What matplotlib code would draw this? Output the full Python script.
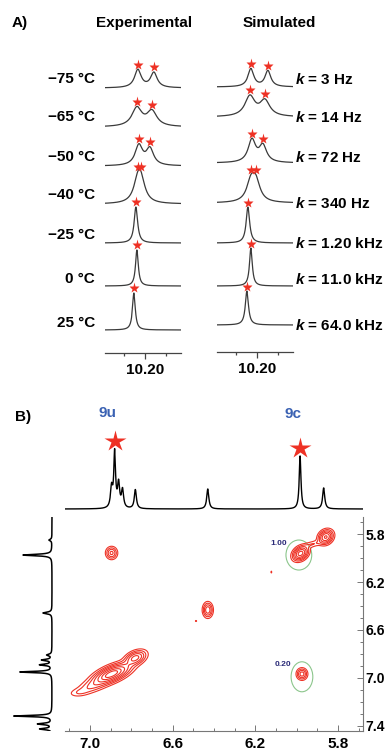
import numpy as np
import matplotlib
matplotlib.use('Agg')
import matplotlib.pyplot as plt
from matplotlib.patches import Ellipse

plt.rcParams['font.family'] = ['Liberation Sans', 'DejaVu Sans']
plt.rcParams['font.weight'] = 'bold'
plt.rcParams['mathtext.fontset'] = 'custom'
plt.rcParams['mathtext.it'] = 'Liberation Sans:italic:bold'
plt.rcParams['mathtext.rm'] = 'Liberation Sans:bold'

# ---------------- data: panel A (variable temperature) ----------------
temps = ['\u221275 \u00b0C', '\u221265 \u00b0C', '\u221250 \u00b0C', '\u221240 \u00b0C',
         '\u221225 \u00b0C', '0 \u00b0C', '25 \u00b0C']
rates = ['3 Hz', '14 Hz', '72 Hz', '340 Hz', '1.20 kHz', '11.0 kHz', '64.0 kHz']

# each row: list of (centre ppm, height, half width ppm)
exp_peaks = [
    [(10.2167, 18.0, 0.0095), (10.1786, 15.0, 0.0095)],
    [(10.2190, 18.5, 0.0143), (10.1833, 15.0, 0.0143)],
    [(10.2143, 20.0, 0.0107), (10.1881, 16.5, 0.0107)],
    [(10.2167, 19.0, 0.0119), (10.2095, 19.0, 0.0119)],
    [(10.2214, 36.0, 0.0050)],
    [(10.2190, 36.0, 0.0040)],
    [(10.2262, 37.0, 0.0040)],
]
sim_peaks = [
    [(10.2143, 18.0, 0.0083), (10.1738, 16.0, 0.0083)],
    [(10.2167, 20.0, 0.0143), (10.1810, 15.5, 0.0143)],
    [(10.2119, 22.5, 0.0107), (10.1857, 16.5, 0.0107)],
    [(10.2143, 19.0, 0.0119), (10.2024, 19.0, 0.0119)],
    [(10.2214, 36.0, 0.0050)],
    [(10.2143, 38.0, 0.0040)],
    [(10.2238, 34.0, 0.0045)],
]

# ---------------- data: panel B (EXSY) ----------------
top_peaks = [  # (ppm, height, half width)
    (6.895, 20.0, 0.006), (6.880, 55.0, 0.005), (6.861, 24.0, 0.006),
    (6.842, 18.0, 0.006), (6.780, 19.0, 0.006), (6.430, 20.0, 0.006),
    (5.984, 53.0, 0.005), (5.870, 21.0, 0.006),
]
top_labels = ['9u', '9c']
top_star_idx = [1, 6]

side_peaks = [
    (5.850, 3.0, 0.008), (5.975, 29.0, 0.007), (6.458, 9.0, 0.008),
    (6.808, 5.0, 0.008), (6.850, 10.0, 0.007), (6.890, 12.0, 0.007),
    (6.950, 32.0, 0.006), (7.317, 38.0, 0.006), (7.383, 14.0, 0.007),
    (7.425, 12.0, 0.007),
]

# 2D cross peaks: (x ppm, y ppm, amplitude, sigma x, sigma y, correlation)
cross_peaks = [
    (6.895, 5.958, 0.45, 0.015, 0.028, 0.0),
    (5.982, 5.962, 1.00, 0.020, 0.032, 0.3),
    (5.860, 5.825, 0.90, 0.019, 0.032, 0.2),
    (5.925, 5.885, 0.14, 0.030, 0.020, 0.6),
    (6.430, 6.433, 0.55, 0.013, 0.034, 0.0),
    (6.487, 6.525, 0.08, 0.004, 0.006, 0.0),
    (6.123, 6.117, 0.08, 0.003, 0.010, 0.0),
    (6.895, 6.967, 1.30, 0.050, 0.048, 0.65),
    (6.780, 6.833, 0.70, 0.028, 0.034, 0.4),
    (6.990, 7.070, 0.22, 0.040, 0.035, 0.5),
    (7.050, 7.120, 0.12, 0.030, 0.022, 0.3),
    (5.975, 6.967, 0.50, 0.014, 0.026, 0.0),
]
circle_labels = ['1.00', '0.20']
circle_centres = [(5.99, 5.975), (5.975, 6.99)]

# ---------------- layout ----------------
W, H = 388, 751
fig = plt.figure(figsize=(W / 100, H / 100), dpi=100)


def box(x0, y0, x1, y1):
    return [x0 / W, 1 - y1 / H, (x1 - x0) / W, (y1 - y0) / H]


def ftext(x, y, s, **kw):
    return fig.text(x / W, 1 - y / H, s, **kw)


def lorentz(x, peaks):
    y = np.zeros_like(x)
    for c, h, w in peaks:
        y += h / (1 + ((x - c) / w) ** 2)
    return y


red = '#ee3124'
trace = '#3a3a3a'

ftext(12, 23, 'A)', fontsize=11, fontweight='bold', va='center')
ftext(144, 23, 'Experimental', fontsize=11, fontweight='bold', ha='center', va='center')
ftext(279, 23, 'Simulated', fontsize=11, fontweight='bold', ha='center', va='center')

exp_base_px = [88, 127, 166, 204, 243, 286, 330]
sim_base_px = [87, 117, 163, 203, 243, 286, 325]
temp_y = [79, 117, 157, 195, 235, 279, 323]
rate_y = [79, 117, 157, 203, 243, 279, 325]

xlim_a = (10.295, 10.114)
xs = np.linspace(xlim_a[1], xlim_a[0], 800)

for (x0, x1, spine_px), peaks_all, bases in [
        ((105, 181, 353), exp_peaks, exp_base_px),
        ((217, 293, 352), sim_peaks, sim_base_px)]:
    ax = fig.add_axes(box(x0, 40, x1, spine_px))
    ax.set_xlim(*xlim_a)
    ax.set_ylim(0, spine_px - 40)
    for peaks, bpx in zip(peaks_all, bases):
        base = spine_px - bpx
        ys = lorentz(xs, peaks)
        ax.plot(xs, base + ys, color=trace, lw=0.9)
        for c, h, w in peaks:
            v = lorentz(np.array([c]), peaks)[0]
            ax.plot(c, base + v + 4.5, marker='*', color=red, ms=8, mec='none',
                    clip_on=False, zorder=5)
    for s in ['top', 'left', 'right']:
        ax.spines[s].set_visible(False)
    ax.spines['bottom'].set_color('#444444')
    ax.spines['bottom'].set_linewidth(0.9)
    ax.set_yticks([])
    ax.set_xticks([10.20])
    ax.set_xticklabels(['10.20'])
    ax.set_xticks([10.25, 10.15], minor=True)
    ax.tick_params(axis='x', which='major', direction='out', length=4, width=0.9,
                   color='#444444', labelsize=11, pad=3)
    ax.tick_params(axis='x', which='minor', direction='out', length=2.5, width=0.9,
                   color='#444444')
    for lab in ax.get_xticklabels():
        lab.set_fontweight('bold')

for t, y in zip(temps, temp_y):
    ftext(95, y, t, fontsize=11, fontweight='bold', ha='right', va='center')
for r, y in zip(rates, rate_y):
    ftext(295, y, r'$k$ = ' + r, fontsize=11, fontweight='bold', ha='left', va='center')

# ---------------- panel B ----------------
ftext(15, 417, 'B)', fontsize=11, fontweight='bold', va='center')

xlim_b = (7.12, 5.68)
ylim_b = (7.442, 5.658)

# top 1D trace
axt = fig.add_axes(box(65, 425, 363, 512))
xt = np.linspace(xlim_b[1], xlim_b[0], 2000)
axt.plot(xt, lorentz(xt, top_peaks), color='black', lw=1.0)
axt.set_xlim(*xlim_b)
axt.set_ylim(-3, 84)
axt.axis('off')
for lab, i in zip(top_labels, top_star_idx):
    c = top_peaks[i][0]
    v = lorentz(np.array([c]), top_peaks)[0]
    axt.plot(c, v + 8, marker='*', color=red, ms=16, mec='none', clip_on=False, zorder=5)
lab_px = [(107, 413), (293, 414)]
for lab, (x, y) in zip(top_labels, lab_px):
    ftext(x, y, lab, fontsize=11, fontweight='bold', color='#3b62b3', ha='center', va='center')

# side 1D trace
axs = fig.add_axes(box(10, 517, 60, 731))
ys_side = np.linspace(ylim_b[1], ylim_b[0], 2000)
axs.plot(lorentz(ys_side, side_peaks), ys_side, color='black', lw=1.1)
axs.set_xlim(42, -8)
axs.set_ylim(*ylim_b)
axs.axis('off')

# 2D EXSY map
ax2 = fig.add_axes(box(65, 517, 363, 731))
gx = np.linspace(5.66, 7.14, 500)
gy = np.linspace(5.64, 7.46, 500)
XX, YY = np.meshgrid(gx, gy)
Z = np.zeros_like(XX)
for cx, cy, a, sx, sy, rho in cross_peaks:
    dx = (XX - cx) / sx
    dy = (YY - cy) / sy
    Z += a * np.exp(-(dx ** 2 - 2 * rho * dx * dy + dy ** 2) / (2 * (1 - rho ** 2)))
levels = [0.06, 0.14, 0.25, 0.4, 0.6, 0.85, 1.1]
ax2.contour(XX, YY, Z, levels=levels, colors=red, linewidths=0.8)

circle_w = [0.1245, 0.105]
for (cx, cy), lab, w in zip(circle_centres, circle_labels, circle_w):
    ax2.add_patch(Ellipse((cx, cy), w, 0.25, fill=False, ec='#8cc68c', lw=0.8))
ax2.text(6.047, 5.875, circle_labels[0], fontsize=6, fontweight='bold', color='#2b2b78',
         ha='right', va='center')
ax2.text(6.028, 6.89, circle_labels[1], fontsize=6, fontweight='bold', color='#2b2b78',
         ha='right', va='center')

ax2.set_xlim(*xlim_b)
ax2.set_ylim(*ylim_b)
for s in ['top', 'left']:
    ax2.spines[s].set_visible(False)
for s in ['bottom', 'right']:
    ax2.spines[s].set_color('#777777')
    ax2.spines[s].set_linewidth(0.8)
ax2.set_xticks([7.0, 6.6, 6.2, 5.8])
ax2.set_xticks(np.arange(5.7, 7.15, 0.1), minor=True)
ax2.set_yticks([5.8, 6.2, 6.6, 7.0, 7.4])
ax2.set_yticks(np.arange(5.7, 7.45, 0.1), minor=True)
ax2.yaxis.tick_right()
ax2.tick_params(which='both', direction='in', color='#777777', width=0.7)
ax2.tick_params(which='major', length=4, pad=4)
ax2.tick_params(which='minor', length=2)
ax2.tick_params(axis='x', labelsize=11)
ax2.tick_params(axis='y', which='both', left=False, right=True, labelleft=False,
                labelright=True, labelsize=10, pad=2)
ax2.tick_params(axis='x', which='both', top=False)
for lab in ax2.get_xticklabels() + ax2.get_yticklabels():
    lab.set_fontweight('bold')

fig.savefig('out.png', dpi=100)
